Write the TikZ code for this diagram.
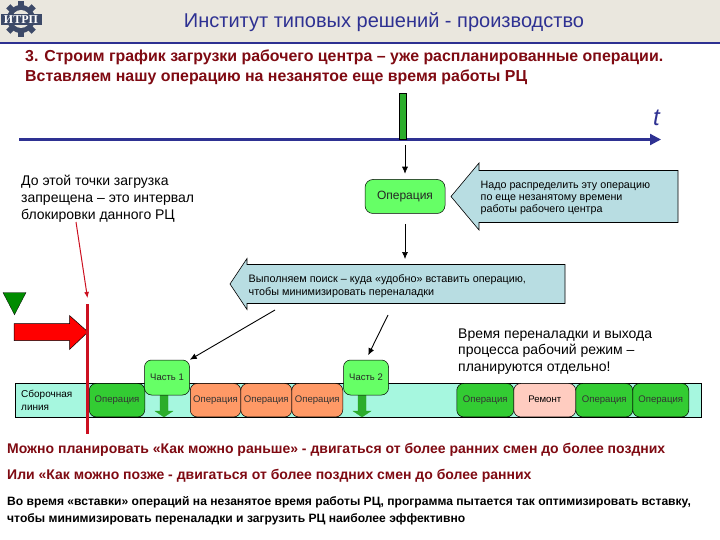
\documentclass[tikz,border=0pt]{standalone}
\usepackage{fontspec}
\setmainfont{Liberation Sans}
\newfontfamily\logofont{Liberation Serif}
\usetikzlibrary{arrows.meta,shapes.geometric}
\definecolor{navy}{HTML}{2E3192}
\definecolor{dred}{HTML}{7F0A12}
\definecolor{headbg}{HTML}{EAE7DE}
\definecolor{calloutbg}{HTML}{B8DDE2}
\definecolor{lime}{HTML}{66FF66}
\definecolor{opgreen}{HTML}{33CC33}
\definecolor{oporange}{HTML}{FF9966}
\definecolor{oppink}{HTML}{FFCCC0}
\definecolor{linebg}{HTML}{A6F7DF}
\definecolor{gearc}{HTML}{3D4A68}
\definecolor{redline}{HTML}{CC1020}
\tikzset{
 x=1pt,y=-1pt,
 lbl/.style 2 args={inner sep=0pt,align=left,anchor=west,font=\fontsize{#1}{#2}\selectfont},
 hlbl/.style 2 args={inner sep=0pt,align=left,anchor=west,text=dred,font=\fontsize{#1}{#2}\selectfont\bfseries},
 opbox/.style={draw=black,line width=0.5pt,rounded corners=7pt,minimum height=33.5pt,inner sep=0pt,anchor=west,text=black!80,text height=7pt,text depth=2pt,font=\fontsize{9.6}{11}\selectfont},
 partbox/.style={draw=black,line width=0.5pt,fill=lime,rounded corners=7pt,minimum width=45pt,minimum height=35pt,inner sep=0pt,text=black!85,font=\fontsize{9.5}{11}\selectfont},
 callout/.style={draw=black,line width=0.6pt,fill=calloutbg},
 flow/.style={draw=black,line width=0.7pt,-{Latex[length=7pt,width=6pt]}},
 downarr/.style={draw=opgreen!80!black,fill=opgreen!85!black,line width=0.3pt},
}
\begin{document}
\begin{tikzpicture}
\useasboundingbox (0,0) rectangle (720,540);
\fill[white] (0,0) rectangle (720,540);
\fill[headbg] (0,0) rectangle (720,42);
\draw[navy,line width=1.8pt] (0,43) -- (720,43);
% logo
\fill[gearc] (21,19) circle (14);
\foreach \a in {0,45,...,315}{\fill[gearc,rotate around={\a:(21,19)}] (18,1) rectangle (24,8);}
\fill[headbg] (21,19) circle (9);
\fill[gearc] (0.5,14.5) rectangle (41.5,25.5);
\node[inner sep=0pt,text=white,font=\fontsize{12}{12}\selectfont\logofont\bfseries] (logo) at (21,20) {ИТРП};
\node[inner sep=0pt,text=navy,font=\fontsize{20}{22}\selectfont] (title) at (384,22.5) {Институт типовых решений - производство};
\node[hlbl={15.9}{19.5}] (h1) at (25,67.5) {3. Строим график загрузки рабочего центра – уже распланированные операции.\\Вставляем нашу операцию на незанятое еще время работы РЦ};
% axis
\coordinate (ax0) at (19,139.5);
\coordinate (ax1) at (661,139.5);
\draw[navy,line width=2.2pt,-{Triangle[length=11pt,width=11pt]}] (ax0) -- (ax1);
\node[inner sep=0pt,text=navy,font=\fontsize{24}{24}\selectfont\itshape] (t) at (656.5,118) {t};
\node[draw=black,line width=0.4pt,fill=opgreen!85!black,minimum width=6.5pt,minimum height=46pt,inner sep=0pt] (bar) at (402.5,116.5) {};
% operation
\node[draw=black,line width=0.5pt,fill=lime,rounded corners=8pt,minimum width=80pt,minimum height=34pt,inner sep=0pt,text=black!85,font=\fontsize{12}{14}\selectfont] (op) at (405,196.5) {Операция};
\coordinate (a1) at (405,145);
\coordinate (a3) at (405,224);
\coordinate (a4) at (405,259);
\draw[flow,shorten >=5.5pt] (a1) -- (op.north);
\draw[flow] (a3) -- (a4);
% callouts
\draw[callout] (451,196.5) -- (479,163) -- (479,170.5) -- (678,170.5) -- (678,222.5) -- (479,222.5) -- (479,230) -- cycle;
\node[lbl={10.7}{12.3}] (c1) at (480.5,198) {Надо распределить эту операцию\\по еще незанятому времени\\работы рабочего центра};
\draw[callout] (230,284) -- (247,258.5) -- (247,264.5) -- (565,264.5) -- (565,303.5) -- (247,303.5) -- (247,309.5) -- cycle;
\node[lbl={10.8}{13}] (c2) at (248.5,286) {Выполняем поиск – куда «удобно» вставить операцию,\\чтобы минимизировать переналадки};
% left label
\node[lbl={14}{17}] (blk) at (21,199) {До этой точки загрузка\\запрещена – это интервал\\блокировки данного РЦ};
\node[lbl={14}{16.5}] (note) at (458,351.5) {Время переналадки и выхода\\процесса рабочий режим –\\планируются отдельно!};
% line band
\node[draw=black,line width=0.6pt,fill=linebg,minimum width=686pt,minimum height=33.5pt,inner sep=0pt,anchor=west] (band) at (14.5,400.2) {};
\node[lbl={10}{13}] (sb) at (21,400) {Сборочная\\линия};
% operations on the band
\node[opbox,fill=opgreen,minimum width=55.5pt] (o1) at (89,400.2) {Операция};
\node[opbox,fill=oporange,minimum width=50.5pt] (o2) at (190,400.2) {Операция};
\node[opbox,fill=oporange,minimum width=51pt] (o3) at (240.5,400.2) {Операция};
\node[opbox,fill=oporange,minimum width=51pt] (o4) at (291.5,400.2) {Операция};
\node[opbox,fill=opgreen,minimum width=57pt] (o5) at (456.5,400.2) {Операция};
\node[opbox,fill=oppink,minimum width=62pt,text=black] (o6) at (513.5,400.2) {Ремонт};
\node[opbox,fill=opgreen,minimum width=57pt] (o7) at (575.5,400.2) {Операция};
\node[opbox,fill=opgreen,minimum width=56pt] (o8) at (632.5,400.2) {Операция};
% parts
\draw[downarr] (160,395) -- (168,395) -- (168,411) -- (173,411) -- (164,417) -- (155,411) -- (160,411) -- cycle;
\draw[downarr] (358,395) -- (366,395) -- (366,411) -- (371,411) -- (362,417) -- (353,411) -- (358,411) -- cycle;
\node[partbox] (p1) at (167,377.5) {Часть 1};
\node[partbox] (p2) at (366,377.5) {Часть 2};
\coordinate (s1) at (275,310);
\coordinate (s2) at (388,315);
\draw[flow,line width=0.9pt] (s1) -- (p1.north east);
\draw[flow,line width=0.9pt,shorten >=5pt] (s2) -- (p2.north);
% red
\node[draw=black,line width=0.3pt,fill=green!55!black,isosceles triangle,shape border rotate=-90,isosceles triangle apex angle=55,minimum width=23pt,minimum height=22pt,inner sep=0pt,anchor=apex] (tri) at (14.5,315) {};
\draw[draw=black,line width=0.5pt,fill=red] (14,323.5) -- (69.5,323.5) -- (69.5,315.5) -- (88,332) -- (69.5,349.5) -- (69.5,340.5) -- (14,340.5) -- cycle;
\coordinate (r0) at (87.5,304);
\coordinate (r1) at (87.5,434);
\draw[redline,line width=3pt] (r0) -- (r1);
\coordinate (rp0) at (76,222);
\coordinate (rp1) at (87.5,298);
\draw[redline,line width=1pt,-{Latex[length=6pt,width=5pt]}] (rp0) -- (rp1);
% bottom text
\node[hlbl={14}{26}] (b1) at (7,463) {Можно планировать «Как можно раньше» - двигаться от более ранних смен до более поздних\\Или «Как можно позже - двигаться от более поздних смен до более ранних};
\node[lbl={12.1}{17},font=\fontsize{12.1}{17}\selectfont\bfseries] (b2) at (7,510.5) {Во время «вставки» операций на незанятое время работы РЦ, программа пытается так оптимизировать вставку,\\чтобы минимизировать переналадки и загрузить РЦ наиболее эффективно};
\end{tikzpicture}
\end{document}
